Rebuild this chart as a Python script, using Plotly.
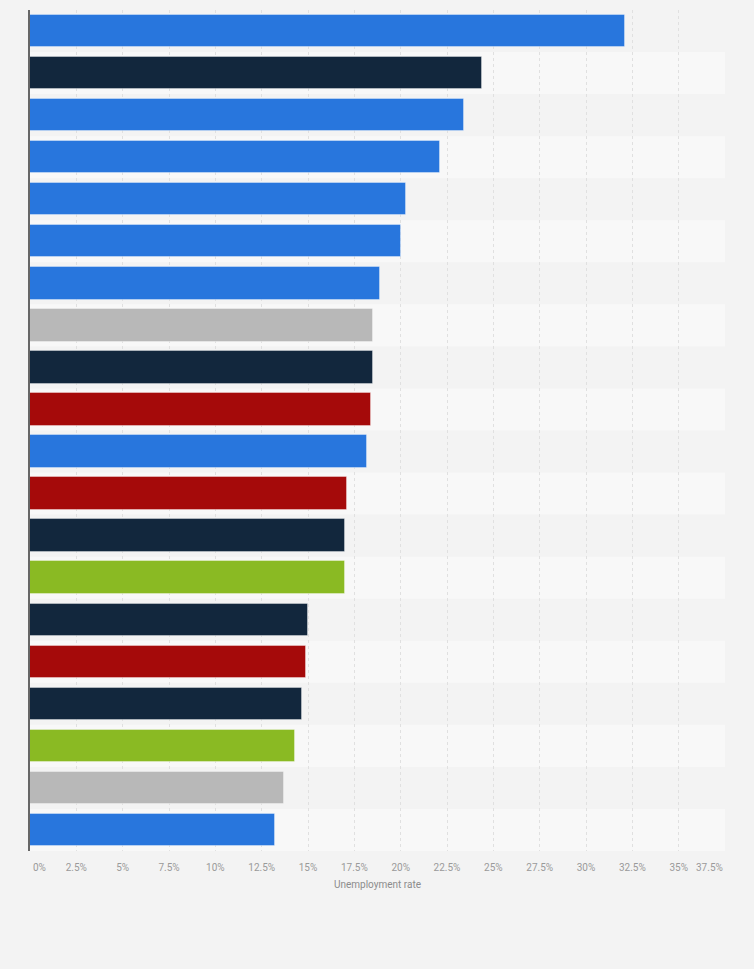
import plotly.graph_objects as go

# one bar per row, top to bottom (no row labels are shown on the chart)
ranks = list(range(1, 21))
rates = [32.1, 24.4, 23.4, 22.1, 20.3, 20.0, 18.9, 18.5, 18.5, 18.4,
         18.2, 17.1, 17.0, 17.0, 15.0, 14.9, 14.7, 14.3, 13.7, 13.2]
groups = ["blue", "navy", "blue", "blue", "blue", "blue", "blue", "grey", "navy", "red",
          "blue", "red", "navy", "green", "navy", "red", "navy", "green", "grey", "blue"]

tick_vals = [i * 2.5 for i in range(16)]
tick_text = ["0%", "2.5%", "5%", "7.5%", "10%", "12.5%", "15%", "17.5%", "20%",
             "22.5%", "25%", "27.5%", "30%", "32.5%", "35%", "37.5%"]

PALETTE = {
    "blue": "#2876dd",
    "navy": "#12273d",
    "grey": "#b8b8b8",
    "red": "#a50a0a",
    "green": "#8aba23",
}

fig = go.Figure()
fig.add_trace(go.Bar(
    x=rates,
    y=ranks,
    orientation="h",
    width=0.77,
    marker=dict(color=[PALETTE[g] for g in groups],
                line=dict(color="rgba(255,255,255,0.35)", width=1)),
    hovertemplate="%{x}%<extra></extra>",
))

# alternating row bands
for r in ranks:
    if r % 2 == 0:
        fig.add_shape(type="rect", xref="paper", yref="y", x0=0, x1=1,
                      y0=r - 0.5, y1=r + 0.5, fillcolor="#f8f8f8",
                      line=dict(width=0), layer="below")

# end labels pulled inward like the original
fig.add_annotation(x=0, y=0, xref="x", yref="paper", text="0%", showarrow=False,
                   xanchor="left", yanchor="top", yshift=-9, xshift=1,
                   font=dict(size=10, color="#9a9a9a"))
fig.add_annotation(x=37.5, y=0, xref="x", yref="paper", text="37.5%", showarrow=False,
                   xanchor="right", yanchor="top", yshift=-9,
                   font=dict(size=10, color="#9a9a9a"))

fig.update_layout(
    width=754,
    height=969,
    margin=dict(l=30, r=29, t=10, b=118),
    paper_bgcolor="#f3f3f3",
    plot_bgcolor="#f3f3f3",
    showlegend=False,
    bargap=0,
    font=dict(family="Roboto, Arial, sans-serif", color="#999"),
)
fig.update_xaxes(
    range=[0, 37.5],
    tickvals=tick_vals,
    ticktext=[""] + tick_text[1:-1] + [""],
    tickfont=dict(size=10, color="#9a9a9a"),
    ticks="",
    ticklabelstandoff=9,
    showgrid=True,
    gridcolor="#e0e0e0",
    griddash="dot",
    gridwidth=1,
    zeroline=False,
    showline=False,
    title=dict(text="Unemployment rate", font=dict(size=10, color="#8c8c8c"), standoff=8),
    fixedrange=True,
)
fig.update_yaxes(
    range=[20.5, 0.5],
    showticklabels=False,
    showgrid=False,
    zeroline=False,
    showline=True,
    linecolor="#666",
    linewidth=1.5,
    ticks="",
    fixedrange=True,
)

# page sits flush in the window, like the original screenshot
fig.write_html("out.html", config={"displayModeBar": False},
               post_script="document.body.style.margin='0';")
